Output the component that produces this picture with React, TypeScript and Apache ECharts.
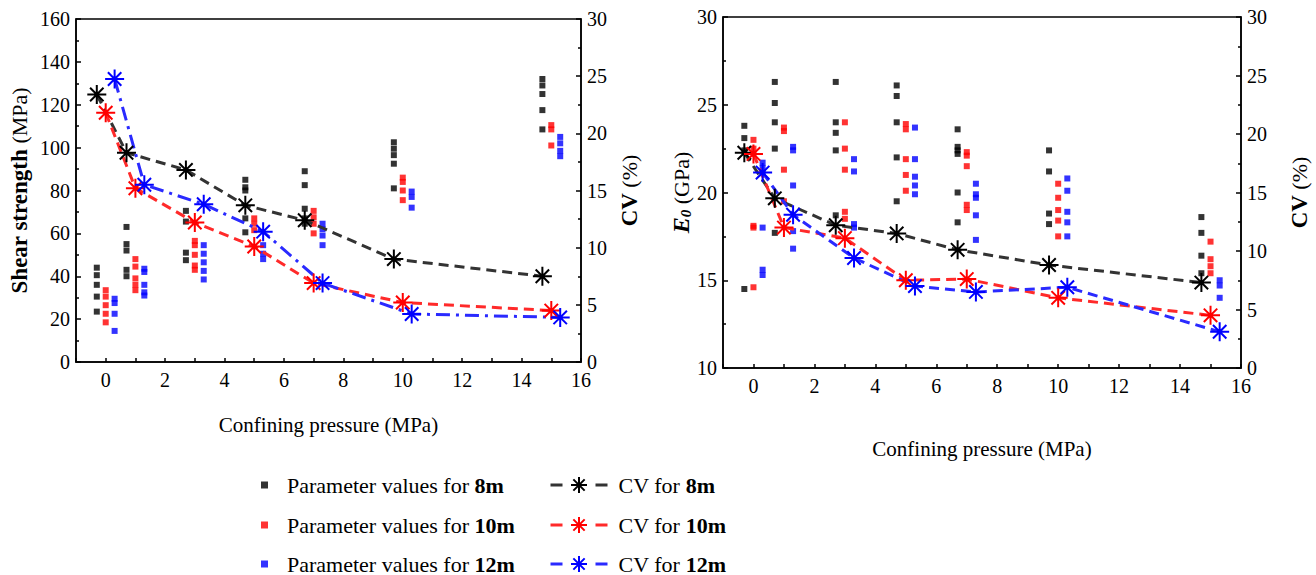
import React, { useEffect, useRef } from "react";
import * as echarts from "echarts";

// ---------- data ----------
const pressures = [0, 1, 3, 5, 7, 10, 15];
const groupOffsets = [-0.3, 0, 0.3];
const depthLabels = ["8m", "10m", "12m"];
const colors = ["#000000", "#ff0000", "#0000ff"];
const lineColors = ["#333333", "#ff2a2a", "#2a2aff"];

// shear strength (MPa) – individual parameter values per pressure
const shear8 = [
  [44, 40.5, 36, 30.5, 23.5],
  [63, 55, 52, 43, 40],
  [70.5, 65.5, 51, 47.5],
  [85, 81.5, 80, 67, 60.5],
  [89, 82.5, 71.5, 67, 64.5],
  [102.5, 99.5, 96.5, 92.5, 81],
  [132, 129, 125, 117.5, 108.5],
];
const shear10 = [
  [33.5, 30.5, 26.5, 22.5, 18.5],
  [48, 44.5, 39, 36, 33.5],
  [56.5, 54.5, 50, 45, 43],
  [67, 64.5, 61.5],
  [70.5, 67.5, 64.5, 60],
  [86, 84, 80, 75.5],
  [110.5, 108.5, 101],
];
const shear12 = [
  [29.5, 27.5, 22.5, 14.5],
  [43.5, 42, 36, 32.5, 31],
  [54.5, 50.5, 46.5, 42.5, 38.5],
  [54.5, 50.5, 48],
  [64.5, 62, 59, 54.5],
  [79.5, 77, 72],
  [105, 102, 98.5, 96],
];

// E0 (GPa)
const e8 = [
  [23.8, 23.1, 22.4, 14.5],
  [26.3, 25.1, 24, 22.5, 17.7],
  [26.3, 24, 23.4, 22.4, 18.7],
  [26.1, 25.5, 24, 22, 19.5],
  [23.6, 22.6, 22.4, 22.2, 20, 18.3],
  [22.4, 21.2, 18.8, 18.2],
  [18.6, 17.7, 16.4, 15.4],
];
const e10 = [
  [23, 22.5, 22.2, 18.1, 18, 14.6],
  [23.7, 23.5, 21.3, 19.5],
  [24, 22.5, 21.3, 18.9, 18.5],
  [23.9, 23.6, 21.9, 21, 20.1],
  [22.3, 22.1, 21.5, 19.3, 19],
  [20.5, 19.7, 19, 18.4, 17.5],
  [17.2, 16.2, 15.8, 15.4],
];
const e12 = [
  [21.7, 21.4, 21.1, 18, 15.6, 15.3],
  [22.6, 22.4, 20.4, 17.8, 16.8],
  [21.9, 21.2, 18.2, 18],
  [23.7, 21.9, 20.9, 20.4, 19.9],
  [20.5, 19.9, 19.7, 18.7, 17.3],
  [20.8, 20.1, 18.9, 18.3, 17.5],
  [15, 14.7, 14],
];

// CV (%)
const cvShear8 = [23.4, 18.3, 16.8, 13.7, 12.4, 9.0, 7.5];
const cvShear10 = [21.8, 15.2, 12.2, 10.1, 6.9, 5.2, 4.5];
const cvShear12 = [24.75, 15.5, 13.8, 11.4, 6.9, 4.2, 3.9];
const cvE8 = [18.4, 14.5, 12.2, 11.5, 10.1, 8.8, 7.3];
const cvE10 = [18.3, 12.0, 11.1, 7.5, 7.6, 6.0, 4.5];
const cvE12 = [16.7, 13.1, 9.4, 7.0, 6.5, 6.9, 3.1];

const FONT = "'Liberation Serif', 'Times New Roman', serif";
const STAR =
  "path://M10 0 L10 20 M0 10 L20 10 M2.93 2.93 L17.07 17.07 M2.93 17.07 L17.07 2.93";

function scatterPoints(groups: number[][], offset: number) {
  const out: number[][] = [];
  groups.forEach((vals, i) => vals.forEach((v) => out.push([pressures[i] + offset, v])));
  return out;
}
function linePoints(cv: number[], offset: number) {
  return cv.map((v, i) => [pressures[i] + offset, v]);
}

const pName = (i: number) => `Parameter values for ${depthLabels[i]}`;
const cName = (i: number) => `CV for ${depthLabels[i]}`;

function xAxis(gridIndex: number, nameGap: number) {
  return {
    type: "value",
    gridIndex,
    min: -1,
    max: 16,
    interval: 1,
    axisLine: { onZero: false, lineStyle: { color: "#000", width: 1.5 } },
    axisTick: { inside: true, length: 4, lineStyle: { color: "#000", width: 1.5 } },
    axisLabel: {
      color: "#000",
      fontSize: 20,
      fontFamily: FONT,
      margin: 8,
      formatter: (v: number) => (v >= 0 && v % 2 === 0 ? String(v) : ""),
    },
    splitLine: { show: false },
    name: "Confining pressure (MPa)",
    nameLocation: "middle",
    nameGap,
    nameTextStyle: { color: "#000", fontSize: 21, fontFamily: FONT },
  };
}

function yAxis(gridIndex: number, opts: any) {
  return {
    type: "value",
    gridIndex,
    axisLine: { show: true, onZero: false, lineStyle: { color: "#000", width: 1.5 } },
    axisTick: { inside: true, length: 5, lineStyle: { color: "#000", width: 1.5 } },
    minorTick: { show: true, splitNumber: 2, length: 3, lineStyle: { color: "#000", width: 1.5 } },
    axisLabel: { color: "#000", fontSize: 20, fontFamily: FONT, margin: 6 },
    splitLine: { show: false },
    nameLocation: "middle",
    nameTextStyle: {
      color: "#000",
      fontSize: 22,
      fontFamily: FONT,
      rich: {
        b: { fontWeight: "bold", fontSize: 23, fontFamily: FONT, color: "#000" },
        i: { fontWeight: "bold", fontStyle: "italic", fontSize: 24, fontFamily: FONT, color: "#000" },
        s: {
          fontWeight: "bold",
          fontStyle: "italic",
          fontSize: 15,
          fontFamily: FONT,
          color: "#000",
          verticalAlign: "bottom",
        },
      },
    },
    ...opts,
  };
}

export default function App() {
  const ref = useRef<HTMLDivElement>(null);
  useEffect(() => {
    document.body.style.margin = "0";
    const chart = echarts.init(ref.current!, undefined, { renderer: "svg" });
    const paramSets = [
      [shear8, shear10, shear12],
      [e8, e10, e12],
    ];
    const cvSets = [
      [cvShear8, cvShear10, cvShear12],
      [cvE8, cvE10, cvE12],
    ];
    const series: any[] = [];
    [0, 1].forEach((g) => {
      [0, 1, 2].forEach((k) => {
        series.push({
          type: "scatter",
          name: pName(k),
          xAxisIndex: g,
          yAxisIndex: g * 2,
          symbol: "rect",
          symbolSize: 6,
          itemStyle: { color: colors[k] },
          data: scatterPoints(paramSets[g][k], groupOffsets[k]),
          z: 2,
        });
      });
      [0, 1, 2].forEach((k) => {
        const dash = g === 0 && k === 2 ? [14, 6, 3, 6] : [10, 6];
        series.push({
          type: "line",
          name: cName(k),
          xAxisIndex: g,
          yAxisIndex: g * 2 + 1,
          symbol: STAR,
          symbolSize: 19,
          showAllSymbol: true,
          lineStyle: { color: lineColors[k], width: 3, type: dash },
          itemStyle: { color: colors[k], borderColor: colors[k], borderWidth: 2 },
          data: linePoints(cvSets[g][k], groupOffsets[k]),
          z: 3,
        });
      });
    });

    const legendText = {
      color: "#000",
      fontSize: 22,
      fontFamily: FONT,
      rich: { b: { fontWeight: "bold", fontSize: 22, fontFamily: FONT, color: "#000" } },
    };
    const fmt = (name: string) => name.replace(/(\d+m)$/, "{b|$1}");
    const rowCenters = [481, 521, 560];
    const legends: any[] = [];
    [0, 1, 2].forEach((k) => {
      legends.push({
        data: [pName(k)],
        left: 256,
        top: rowCenters[k] - 12,
        icon: "rect",
        itemWidth: 7,
        itemHeight: 7,
        textStyle: { ...legendText, padding: [0, 0, 0, 14] },
        formatter: fmt,
        selectedMode: false,
      });
      legends.push({
        data: [cName(k)],
        left: 544,
        top: rowCenters[k] - 12,
        itemWidth: 57,
        itemHeight: 20,
        lineStyle: { type: [12, 33], width: 3 },
        textStyle: { ...legendText, padding: [0, 0, 0, 6] },
        formatter: fmt,
        selectedMode: false,
      });
    });

    chart.setOption({
      animation: false,
      backgroundColor: "#fff",
      grid: [
        { left: 76, top: 19, width: 505, height: 343, show: true, borderColor: "#000", borderWidth: 1.5 },
        { left: 723, top: 17, width: 518, height: 351, show: true, borderColor: "#000", borderWidth: 1.5 },
      ],
      xAxis: [xAxis(0, 52), xAxis(1, 70)],
      yAxis: [
        yAxis(0, { min: 0, max: 160, interval: 20, name: "{b|Shear strength} (MPa)", nameGap: 45 }),
        yAxis(0, { min: 0, max: 30, interval: 5, position: "right", name: "{b|CV} (%)", nameGap: 37 }),
        yAxis(1, { min: 10, max: 30, interval: 5, name: "{i|E}{s|0} (GPa)", nameGap: 30 }),
        yAxis(1, { min: 0, max: 30, interval: 5, position: "right", name: "{b|CV} (%)", nameGap: 47 }),
      ],
      legend: legends,
      series,
    });
    return () => chart.dispose();
  }, []);
  return <div ref={ref} style={{ width: 1316, height: 575 }} />;
}
